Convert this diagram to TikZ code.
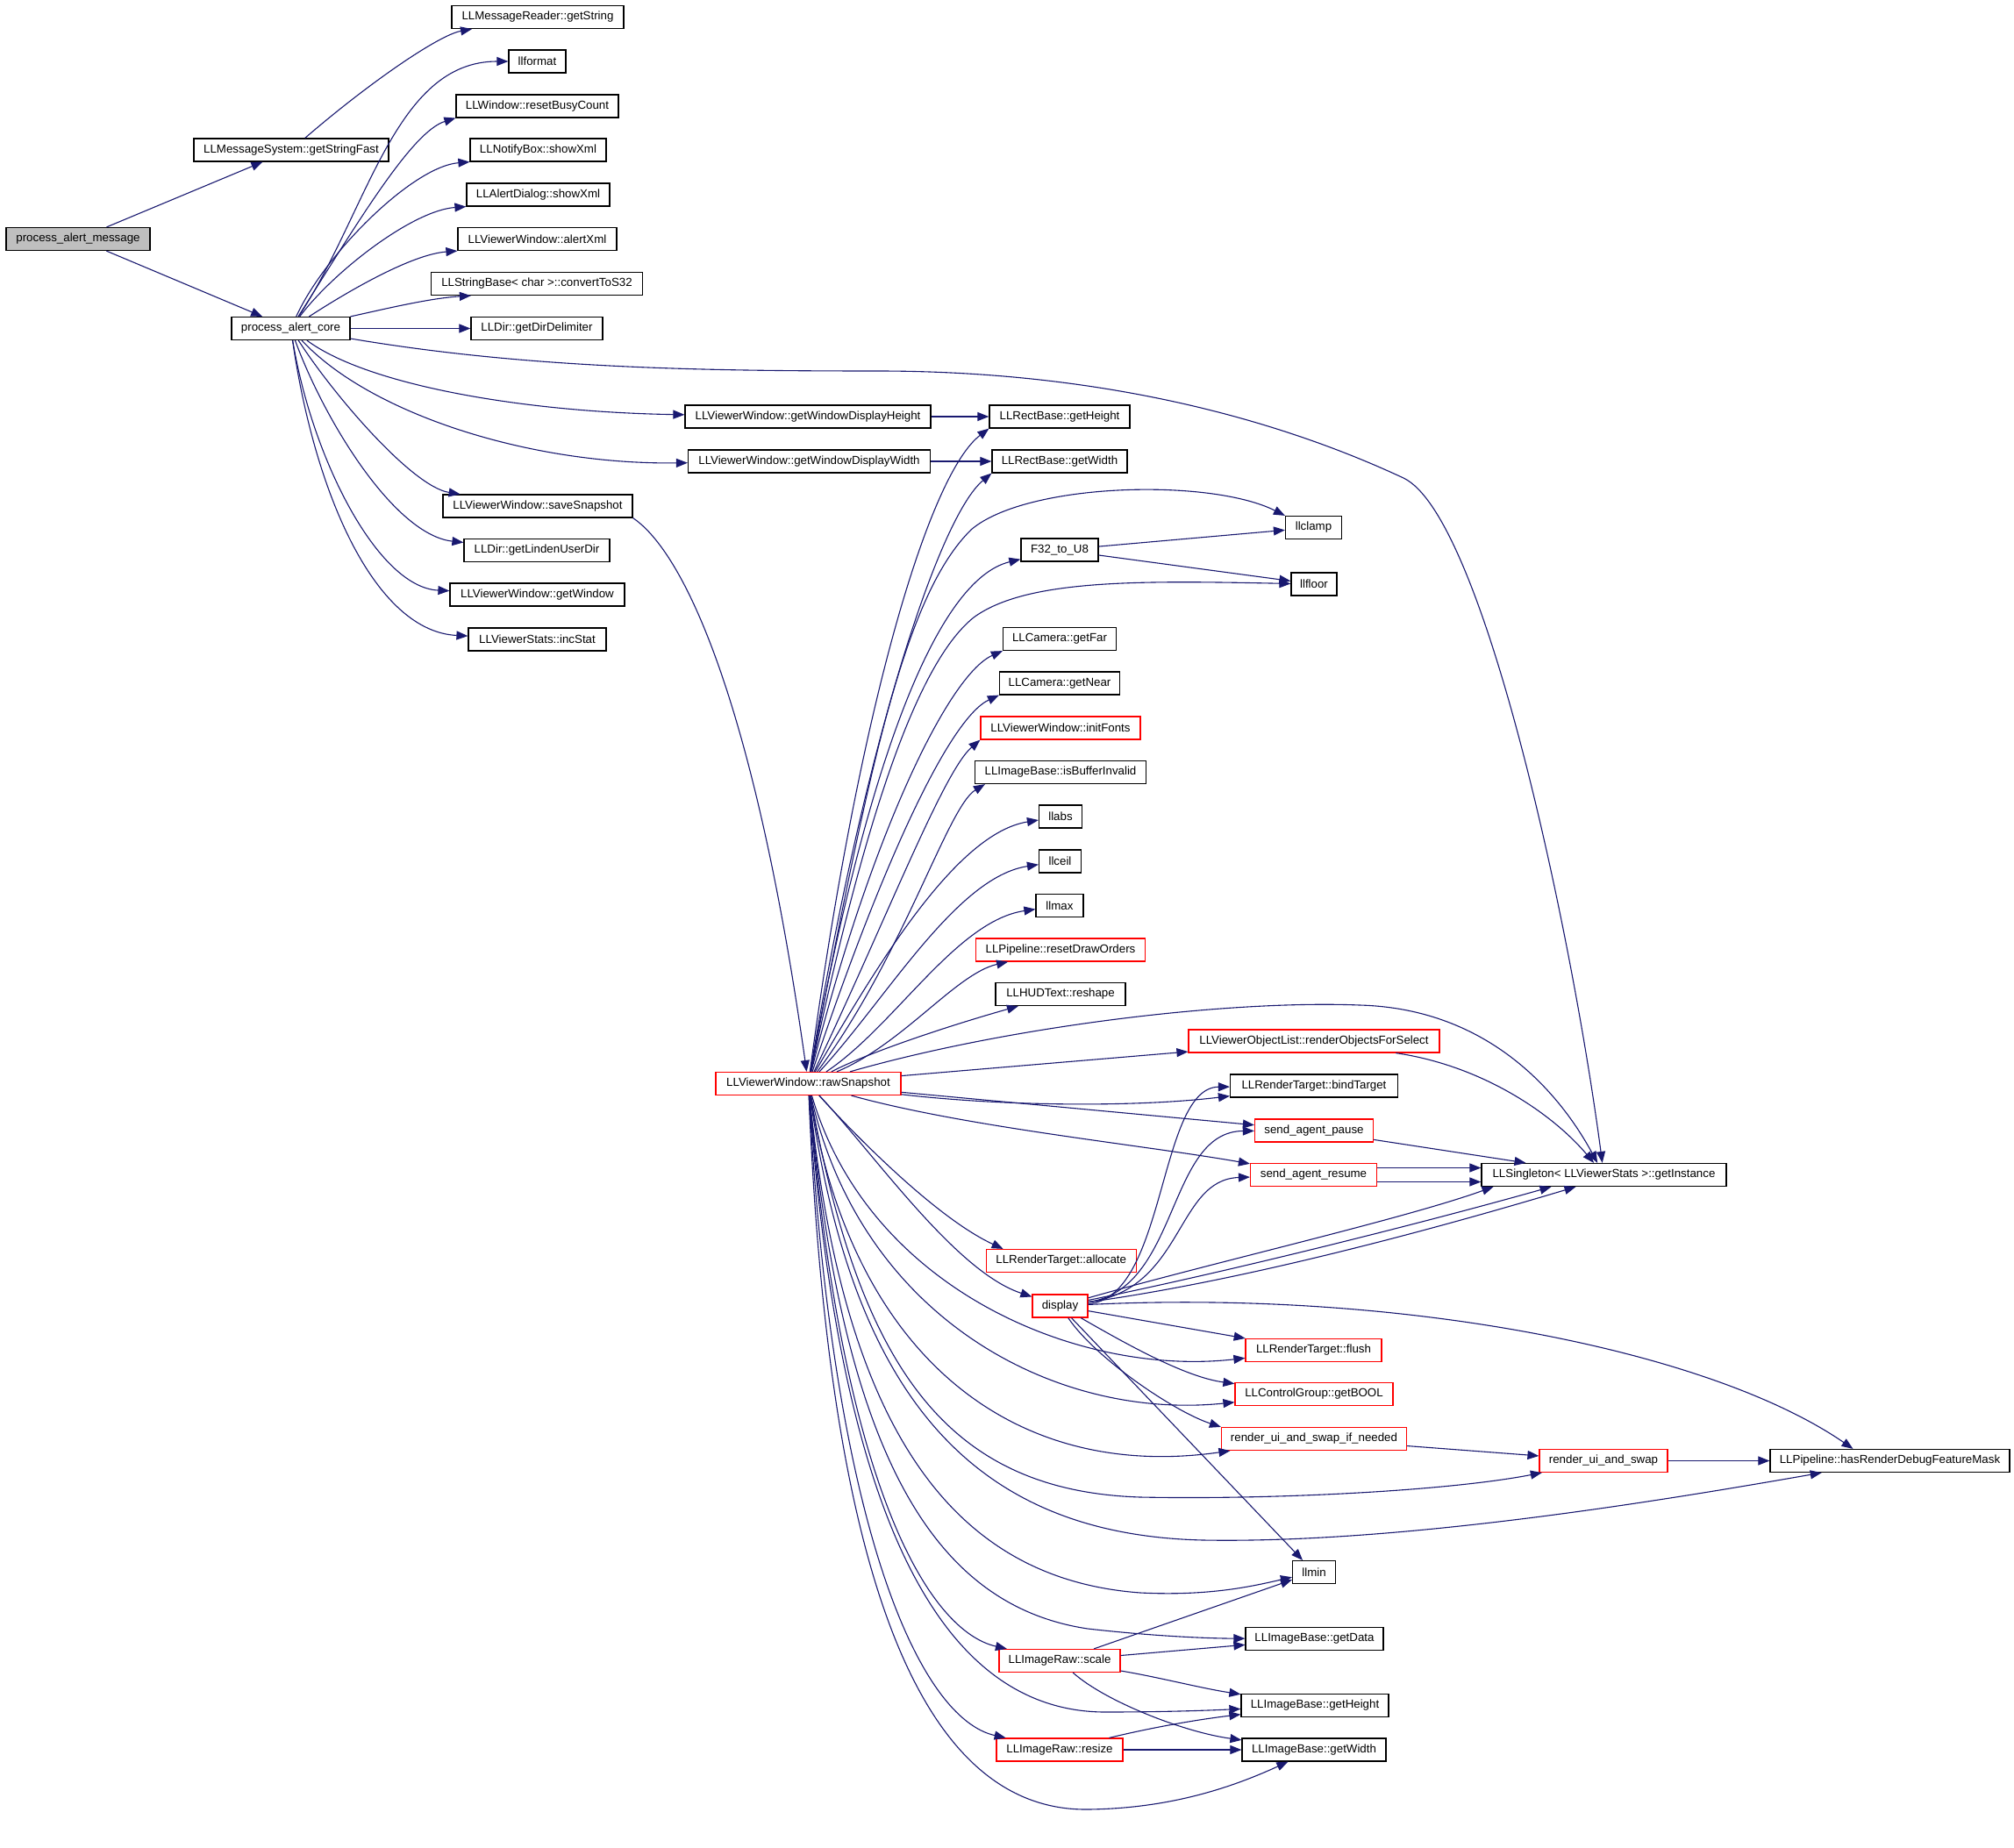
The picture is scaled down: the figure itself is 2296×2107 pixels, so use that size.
\documentclass[tikz,border=0pt]{standalone}
\usepackage{fontspec}
\setmainfont{Liberation Sans}
\usetikzlibrary{arrows.meta}
\definecolor{edgeblue}{RGB}{25,25,112}
\definecolor{rootgray}{RGB}{191,191,191}

\begin{document}
\begin{tikzpicture}[x = 0.5pt, y = -0.5pt,
  func/.style = {draw, rectangle, line width = 0.6pt, inner sep = 0pt, minimum height = 13pt, font = \fontsize{6.65}{8}\selectfont},
  hot/.style = {func, draw = red},
  root/.style = {func, fill = rootgray},
  calls/.style = {draw = edgeblue, line width = 0.55pt, -{Triangle[length = 6.5pt, width = 5pt]}}]
\fill [white] (0,0) rectangle (2296,2107);

\node [root, minimum width = 82pt] (pam) at (89,272.5) {process\_alert\_message};
\node [func, minimum width = 111pt] (gsf) at (332,171) {LLMessageSystem::getStringFast};
\node [func, minimum width = 98pt] (mrgs) at (613,19.5) {LLMessageReader::getString};
\node [func, minimum width = 32.5pt] (llformat) at (612.5,70) {llformat};
\node [func, minimum width = 92.5pt] (rbc) at (612.5,121) {LLWindow::resetBusyCount};
\node [func, minimum width = 77.5pt] (nbx) at (613.5,171) {LLNotifyBox::showXml};
\node [func, minimum width = 81.5pt] (adx) at (613.5,222) {LLAlertDialog::showXml};
\node [func, minimum width = 90.5pt] (axml) at (612.5,272.5) {LLViewerWindow::alertXml};
\node [func, minimum width = 120.5pt] (cts) at (612,323.5) {LLStringBase< char >::convertToS32};
\node [func, minimum width = 75pt] (gdd) at (612,374.5) {LLDir::getDirDelimiter};
\node [func, minimum width = 67.5pt] (pac) at (331.5,374.5) {process\_alert\_core};
\node [func, minimum width = 140pt] (wdh) at (921,475) {LLViewerWindow::getWindowDisplayHeight};
\node [func, minimum width = 138pt] (wdw) at (922.5,526) {LLViewerWindow::getWindowDisplayWidth};
\node [func, minimum width = 108pt] (ssn) at (613,577) {LLViewerWindow::saveSnapshot};
\node [func, minimum width = 83pt] (glu) at (612,627.5) {LLDir::getLindenUserDir};
\node [func, minimum width = 99.5pt] (gwin) at (612.5,678) {LLViewerWindow::getWindow};
\node [func, minimum width = 78.5pt] (inc) at (612.5,729) {LLViewerStats::incStat};
\node [func, minimum width = 80pt] (rgh) at (1208,475) {LLRectBase::getHeight};
\node [func, minimum width = 77pt] (rgw) at (1208,526) {LLRectBase::getWidth};
\node [func, minimum width = 32pt] (llclamp) at (1497.5,601.5) {llclamp};
\node [func, minimum width = 44pt] (f32) at (1208,627) {F32\_to\_U8};
\node [func, minimum width = 26pt] (llfloor) at (1498,666) {llfloor};
\node [func, minimum width = 64.5pt] (camfar) at (1208,728.5) {LLCamera::getFar};
\node [func, minimum width = 68.5pt] (camnear) at (1208,779) {LLCamera::getNear};
\node [hot, minimum width = 91pt] (ifonts) at (1209,830) {LLViewerWindow::initFonts};
\node [func, minimum width = 97.5pt] (ibi) at (1209,880.5) {LLImageBase::isBufferInvalid};
\node [func, minimum width = 24.5pt] (llabs) at (1209,931) {llabs};
\node [func, minimum width = 24pt] (llceil) at (1208.5,982) {llceil};
\node [func, minimum width = 27pt] (llmax) at (1208,1032.5) {llmax};
\node [hot, minimum width = 96.5pt] (rdo) at (1209,1083) {LLPipeline::resetDrawOrders};
\node [func, minimum width = 74pt] (hud) at (1209,1133.5) {LLHUDText::reshape};
\node [hot, minimum width = 143pt] (rofs) at (1498,1187) {LLViewerObjectList::renderObjectsForSelect};
\node [func, minimum width = 95.5pt] (bind) at (1498,1238) {LLRenderTarget::bindTarget};
\node [hot, minimum width = 67.5pt] (sap) at (1498,1289) {send\_agent\_pause};
\node [hot, minimum width = 72pt] (sar) at (1497.5,1339.5) {send\_agent\_resume};
\node [func, minimum width = 139.5pt] (inst) at (1828.5,1339.5) {LLSingleton< LLViewerStats >::getInstance};
\node [hot, minimum width = 105.5pt] (raw) at (921.5,1235.5) {LLViewerWindow::rawSnapshot};
\node [hot, minimum width = 85.5pt] (alloc) at (1209.7,1437.5) {LLRenderTarget::allocate};
\node [hot, minimum width = 31.5pt] (disp) at (1208.5,1489) {display};
\node [hot, minimum width = 77.5pt] (flush) at (1497.5,1539.5) {LLRenderTarget::flush};
\node [hot, minimum width = 90pt] (gbool) at (1498,1589.5) {LLControlGroup::getBOOL};
\node [hot, minimum width = 105.5pt] (ruisn) at (1498,1640.5) {render\_ui\_and\_swap\_if\_needed};
\node [hot, minimum width = 73pt] (ruis) at (1828,1665.5) {render\_ui\_and\_swap};
\node [func, minimum width = 136.5pt] (hrdf) at (2154.5,1665.5) {LLPipeline::hasRenderDebugFeatureMask};
\node [func, minimum width = 24.5pt] (llmin) at (1498,1792.5) {llmin};
\node [func, minimum width = 78.5pt] (gdata) at (1498.5,1868.5) {LLImageBase::getData};
\node [hot, minimum width = 69pt] (rawscale) at (1208,1893.5) {LLImageRaw::scale};
\node [func, minimum width = 84pt] (ibh) at (1499,1944.5) {LLImageBase::getHeight};
\node [hot, minimum width = 72pt] (rawresize) at (1208,1995) {LLImageRaw::resize};
\node [func, minimum width = 82pt] (ibw) at (1498,1995) {LLImageBase::getWidth};

\draw [calls] (pam) -- (gsf);
\draw [calls] (pam) -- (pac);
\draw [calls] (gsf) .. controls (420,95) and (500,40) .. (mrgs);

\draw [calls] (pac) .. controls (420,240) and (450,70) .. (llformat);
\draw [calls] (pac) .. controls (410,250) and (470,150) .. (rbc.south west);
\draw [calls] (pac) .. controls (370,290) and (470,190) .. (nbx.south west);
\draw [calls] (pac) .. controls (380,310) and (470,240) .. (adx.south west);
\draw [calls] (pac) .. controls (400,330) and (470,290) .. (axml.south west);
\draw [calls] (pac.north east) .. controls (440,352) and (490,340) .. ([xshift = 23pt]cts.south west);
\draw [calls] (pac) -- (gdd);
\draw [calls] (pac) .. controls (420,440) and (600,470) .. (wdh);
\draw [calls] (pac) .. controls (420,470) and (600,530) .. (wdw);
\draw [calls] (pac) .. controls (380,450) and (470,555) .. (ssn);
\draw [calls] (pac) .. controls (370,480) and (450,610) .. (glu);
\draw [calls] (pac) .. controls (355,520) and (430,670) .. (gwin);
\draw [calls] (pac) .. controls (360,570) and (430,720) .. (inc);
\draw [calls] (pac) .. controls (600,420) and (800,423) .. (1000,423) .. controls (1250,423) and (1450,475) .. (1600,545) .. controls (1690,588) and (1790,1050) .. (inst);

\draw [calls] (wdh) -- (rgh);
\draw [calls] (wdw) -- (rgw);
\draw [calls] (ssn.south east) .. controls (780,630) and (860,800) .. (raw);
\draw [calls] (f32) -- (llclamp);
\draw [calls] (f32) -- (llfloor);

\draw [calls] (raw) .. controls (980,800) and (1060,540) .. (rgh.south west);
\draw [calls] (raw) .. controls (985,850) and (1070,590) .. (rgw.south west);
\draw [calls] (raw) .. controls (990,880) and (1030,680) .. (1107,604) .. controls (1170,550) and (1380,545) .. (llclamp.north west);
\draw [calls] (raw) .. controls (990,860) and (1070,660) .. (f32);
\draw [calls] (raw) .. controls (980,960) and (1040,760) .. (1110,704) .. controls (1170,660) and (1300,662) .. (llfloor);
\draw [calls] (raw) .. controls (990,960) and (1080,770) .. (camfar.south west);
\draw [calls] (raw) .. controls (1000,1000) and (1080,820) .. (camnear.south west);
\draw [calls] (raw) .. controls (1010,1050) and (1075,880) .. (ifonts.south west);
\draw [calls] (raw) .. controls (1030,1090) and (1080,920) .. ([xshift = 6pt]ibi.south west);
\draw [calls] (raw) .. controls (1000,1100) and (1090,950) .. (llabs);
\draw [calls] (raw) .. controls (1010,1140) and (1090,1000) .. (llceil);
\draw [calls] (raw) .. controls (1020,1170) and (1090,1050) .. (llmax);
\draw [calls] (raw) .. controls (1030,1190) and (1090,1110) .. (rdo);
\draw [calls] (raw) .. controls (990,1200) and (1080,1170) .. (hud);
\draw [calls] (raw) .. controls (1150,1170) and (1400,1140) .. (1550,1146) .. controls (1700,1150) and (1780,1250) .. (inst);
\draw [calls] (raw) -- (rofs);
\draw [calls] (raw) .. controls (1150,1262) and (1300,1262) .. (bind);
\draw [calls] (raw) -- (sap);
\draw [calls] (raw) .. controls (1100,1285) and (1300,1305) .. (sar);
\draw [calls] (raw) .. controls (980,1300) and (1070,1390) .. ([xshift = 10pt]alloc.north west);
\draw [calls] (raw) .. controls (1000,1320) and (1090,1450) .. (disp);
\draw [calls] (raw) .. controls (990,1470) and (1230,1570) .. (flush);
\draw [calls] (raw) .. controls (980,1500) and (1200,1620) .. (gbool);
\draw [calls] (raw) .. controls (970,1540) and (1150,1690) .. (ruisn);
\draw [calls] (raw) .. controls (980,1560) and (1080,1700) .. (1300,1707) .. controls (1450,1710) and (1650,1700) .. (ruis);
\draw [calls] (raw) .. controls (970,1580) and (1100,1750) .. (1372,1756) .. controls (1600,1760) and (1900,1710) .. (hrdf);
\draw [calls] (raw) .. controls (960,1620) and (1080,1800) .. (1300,1816) .. controls (1380,1820) and (1430,1808) .. (llmin);
\draw [calls] (raw) .. controls (960,1650) and (1060,1830) .. (1240,1857) .. controls (1320,1866) and (1380,1868) .. (gdata);
\draw [calls] (raw) .. controls (960,1700) and (1060,1860) .. (rawscale);
\draw [calls] (raw) .. controls (955,1700) and (1060,1950) .. (1258,1952) .. controls (1330,1952) and (1380,1950) .. (ibh);
\draw [calls] (raw) .. controls (950,1750) and (1050,1960) .. (rawresize);
\draw [calls] (raw) .. controls (945,1800) and (1050,2065) .. (1240,2063) .. controls (1330,2062) and (1400,2040) .. (ibw);

\draw [calls] (rofs) .. controls (1690,1215) and (1770,1270) .. (inst);
\draw [calls] (sap) -- (inst);
\draw [calls] ([yshift = 4pt]sar.east) -- ([yshift = 4pt]inst.west);
\draw [calls] ([yshift = -4pt]sar.east) -- ([yshift = -4pt]inst.west);

\draw [calls] (disp) .. controls (1380,1440) and (1600,1390) .. ([xshift = -63pt]inst.south);
\draw [calls] (disp) .. controls (1400,1450) and (1620,1395) .. ([xshift = -30pt]inst.south);
\draw [calls] (disp) .. controls (1420,1460) and (1640,1400) .. ([xshift = -16pt]inst.south);
\draw [calls] (disp) .. controls (1330,1480) and (1320,1240) .. (bind);
\draw [calls] (disp) .. controls (1345,1470) and (1330,1290) .. (sap);
\draw [calls] (disp) .. controls (1350,1470) and (1340,1345) .. (sar);
\draw [calls] (disp) -- (flush);
\draw [calls] (disp) .. controls (1280,1530) and (1350,1570) .. (gbool);
\draw [calls] (disp) .. controls (1250,1550) and (1340,1610) .. (ruisn.north west);
\draw [calls] (disp) -- (llmin);
\draw [calls] (disp) .. controls (1600,1470) and (1950,1540) .. ([xshift = -21pt]hrdf.north);

\draw [calls] (ruisn) -- (ruis);
\draw [calls] (ruis) -- (hrdf);
\draw [calls] (rawscale) -- (llmin);
\draw [calls] (rawscale) -- (gdata);
\draw [calls] (rawscale) .. controls (1320,1912) and (1370,1925) .. (ibh);
\draw [calls] (rawscale) .. controls (1260,1940) and (1350,1975) .. (ibw);
\draw [calls] (rawresize) .. controls (1320,1968) and (1370,1960) .. (ibh);
\draw [calls] (rawresize) -- (ibw);
\end{tikzpicture}
\end{document}
